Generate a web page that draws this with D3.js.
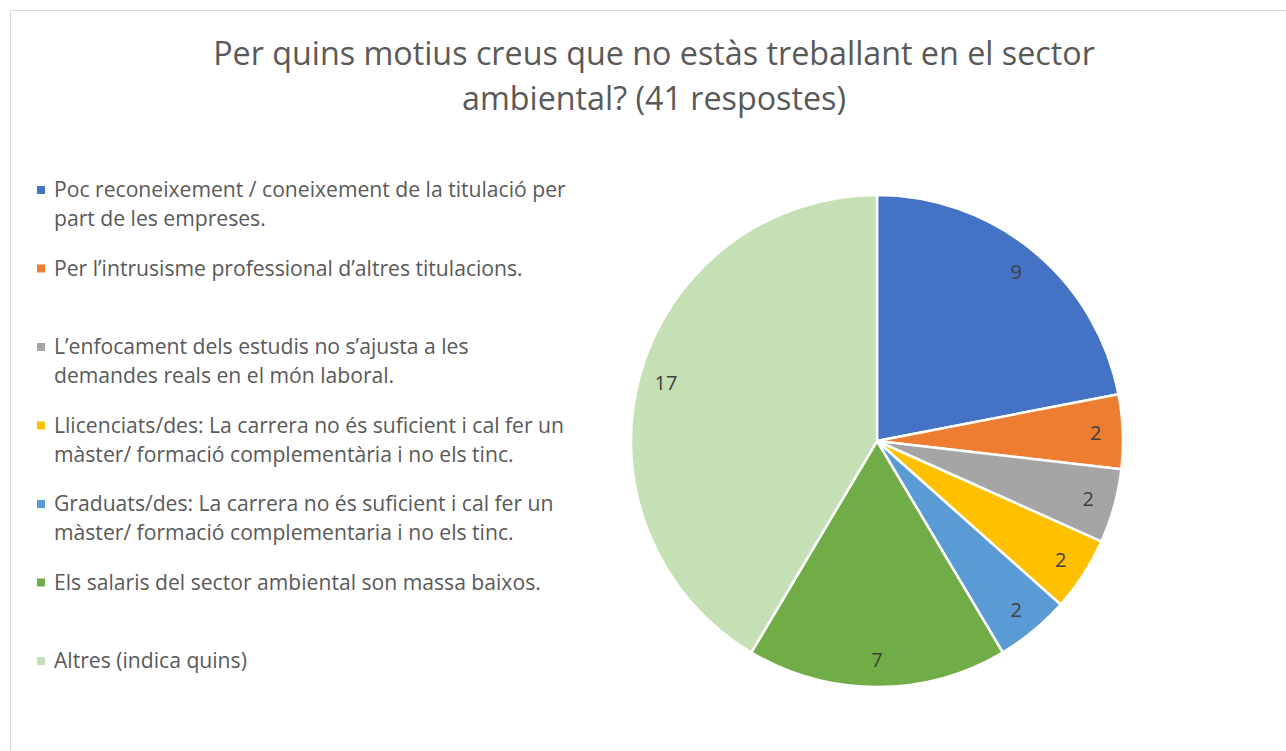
<!DOCTYPE html>
<html>
<head>
<meta charset="utf-8">
<script src="https://cdn.jsdelivr.net/npm/d3@7"></script>
<style>
  body { margin: 0; background: #fff; }
  text { font-family: "Open Sans", "Noto Sans", sans-serif; fill: #595959; }
</style>
</head>
<body>
<script>
let w = 1286;
let h = 751;

// data
let titleLines = ["Per quins motius creus que no estàs treballant en el sector",
                  "ambiental? (41 respostes)"];
let categories = [
  ["Poc reconeixement / coneixement de la titulació per", "part de les empreses."],
  ["Per l’intrusisme professional d’altres titulacions."],
  ["L’enfocament dels estudis no s’ajusta a les", "demandes reals en el món laboral."],
  ["Llicenciats/des: La carrera no és suficient i cal fer un", "màster/ formació complementària i no els tinc."],
  ["Graduats/des: La carrera no és suficient i cal fer un", "màster/ formació complementaria i no els tinc."],
  ["Els salaris del sector ambiental son massa baixos."],
  ["Altres (indica quins)"]
];
let values = [9, 2, 2, 2, 2, 7, 17];
let colors = ["#4472C4", "#ED7D31", "#A5A5A5", "#FFC000", "#5B9BD5", "#70AD47", "#C5E0B4"];

let svg = d3.select("body")
            .append("svg")
            .attr("width", w)
            .attr("height", h);

// chart frame
svg.append("rect")
   .attr("x", 10.5).attr("y", 10.5)
   .attr("width", w).attr("height", h)
   .attr("fill", "none")
   .attr("stroke", "#d9d9d9");

// title, sized so the first line spans about 882px
let title = svg.append("g");
title.selectAll("text")
     .data(titleLines)
     .enter()
     .append("text")
     .attr("x", 654)
     .attr("y", (d, i) => 65 + i * 45)
     .attr("text-anchor", "middle")
     .style("font-size", "28px")
     .text(d => d);
let tw = title.select("text").node().getComputedTextLength();
title.selectAll("text").style("font-size", (28 * 882 / tw) + "px");

// pie
let cx = 877, cy = 441, r = 246;
let pie = d3.pie().sort(null).value(d => d)(values);
let arc = d3.arc().innerRadius(0).outerRadius(r);
let labelArc = d3.arc().innerRadius(r * 0.89).outerRadius(r * 0.89);

let g = svg.append("g").attr("transform", `translate(${cx},${cy})`);
g.selectAll("path")
 .data(pie)
 .enter()
 .append("path")
 .attr("d", arc)
 .attr("fill", (d, i) => colors[i])
 .attr("stroke", "#fff")
 .attr("stroke-width", 2.5)
 .attr("stroke-linejoin", "round");

g.selectAll("text.lbl")
 .data(pie)
 .enter()
 .append("text")
 .attr("class", "lbl")
 .attr("transform", d => `translate(${labelArc.centroid(d)})`)
 .attr("text-anchor", "middle")
 .attr("dy", "0.35em")
 .style("font-size", "20px")
 .style("fill", "#404040")
 .text(d => d.data);

// legend
let legend = svg.append("g").attr("class", "legend");
let items = legend.selectAll("g")
                  .data(categories)
                  .enter()
                  .append("g")
                  .attr("transform", (d, i) => `translate(37,${190 + i * 78.5})`);
items.append("rect")
     .attr("x", 0).attr("y", -4)
     .attr("width", 8).attr("height", 8)
     .attr("fill", (d, i) => colors[i]);
items.selectAll("text")
     .data(d => d)
     .enter()
     .append("text")
     .attr("x", 17)
     .attr("y", (d, i) => 7 + i * 29)
     .style("font-size", "19px")
     .text(d => d);
let lw = legend.select("text").node().getComputedTextLength();
legend.selectAll("text").style("font-size", (19 * 512 / lw) + "px");
</script>
</body>
</html>
